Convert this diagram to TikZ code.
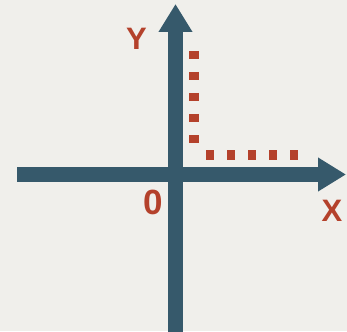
\documentclass[tikz,border=0pt]{standalone}
\usepackage{fontspec}
\setmainfont{Liberation Sans}
\usetikzlibrary{arrows.meta}
\definecolor{bgc}{HTML}{F0EFEB}
\definecolor{axisc}{HTML}{36596B}
\definecolor{redc}{HTML}{B4412B}
\tikzset{
  axisline/.style={draw=axisc, line width=15pt, -{Triangle[length=28pt, width=32pt]}},
  dotline/.style={draw=redc, line width=10pt, dash pattern=on 8pt off 13pt},
  lbl/.style={text=redc, font=\fontsize{31}{31}\selectfont\bfseries, inner sep=0pt}
}
\begin{document}
\begin{tikzpicture}[x=1pt, y=-1pt]
\fill[bgc] (0,0) rectangle (347,331);
\useasboundingbox (0,0) rectangle (347,331);
\coordinate (xs) at (17,174.5);
\coordinate (xe) at (346,174.5);
\coordinate (ys) at (175.5,332);
\coordinate (ye) at (175.5,4);
\draw[axisline] (xs) -- (xe);
\draw[axisline] (ys) -- (ye);
\coordinate (d1) at (194,51);
\coordinate (d2) at (194,143);
\coordinate (d3) at (206,155);
\coordinate (d4) at (298,155);
\draw[dotline] (d1) -- (d2);
\draw[dotline] (d3) -- (d4);
\node[lbl] (ylab) at (136.5,38.5) {Y};
\node[lbl] (xlab) at (332,211) {X};
\node[lbl, font=\fontsize{35}{35}\selectfont\bfseries] (zlab) at (153,202.5) {0};
\end{tikzpicture}
\end{document}
